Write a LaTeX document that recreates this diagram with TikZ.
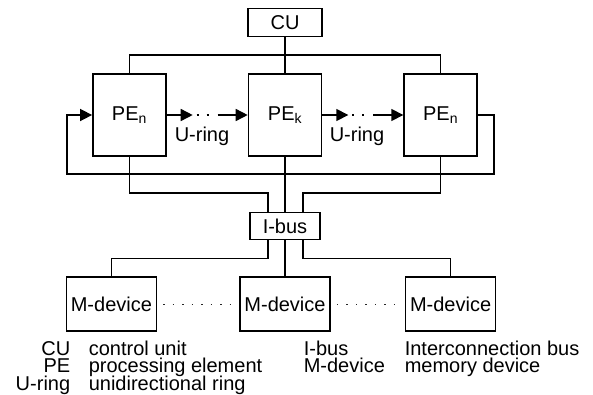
\documentclass[tikz,border=0pt]{standalone}
\usepackage{fontspec}
\setmainfont{Liberation Sans}
\usetikzlibrary{positioning}
\usetikzlibrary{arrows.meta}

\begin{document}
\begin{tikzpicture}[
    x=1pt, y=-1pt, % pixel-like units, y grows downwards
    line width=1.6pt,
    font=\fontsize{20}{20}\selectfont,
    node distance=36pt and 81pt, % vertical and horizontal spacing
    % Styling for the nodes
    unitBox/.style={
        rectangle,
        draw,
        inner sep=0pt,
        minimum width=74pt,
        minimum height=28pt
    },
    peBox/.style={
        rectangle,
        draw,
        inner sep=0pt,
        minimum width=73pt,
        minimum height=82pt
    },
    memBox/.style={
        rectangle,
        draw,
        inner sep=0pt,
        minimum width=90pt,
        minimum height=54pt
    },
    ringArrow/.style={-{Triangle[length=12pt,width=12pt]}},
    ringDots/.style={dash pattern=on 2pt off 8pt},
    memDots/.style={line width=1.4pt, dash pattern=on 1.4pt off 8.1pt, black!85},
    keyText/.style={inner sep=0pt, anchor=base west}
]
    \useasboundingbox (0,0) rectangle (593,394);

    % Define Nodes
    \node[peBox] (PEk) at (285,115) {PE\textsubscript{k}};
    \node[peBox] (PEl) [left=of PEk] {PE\textsubscript{n}};
    \node[peBox] (PEr) [right=of PEk] {PE\textsubscript{n}};
    \node[unitBox] (CU) [above=of PEk] {CU};
    \node[unitBox, minimum width=70pt, minimum height=27pt] (Ibus) [below=55pt of PEk] {I-bus};
    \node[memBox] (Mk) [below=of Ibus] {M-device};
    \node[memBox] (Ml) [left=82pt of Mk] {M-device};
    \node[memBox] (Mr) [right=74pt of Mk] {M-device};

    \node[inner sep=0pt, anchor=base] (ringL) at (202,141) {U-ring};
    \node[inner sep=0pt, anchor=base] (ringR) at (357,141) {U-ring};

    \coordinate (loopR) at (494,174);
    \coordinate (loopL) at (67,174);

    % Legend
    \node[keyText, anchor=base east] (keyCU) at (71,355) {CU};
    \node[keyText] (keyCUtxt) at (88,355) {control unit};
    \node[keyText, anchor=base east] (keyPE) at (71,372) {PE};
    \node[keyText] (keyPEtxt) at (88,372) {processing element};
    \node[keyText, anchor=base east] (keyRing) at (71,390) {U-ring};
    \node[keyText] (keyRingtxt) at (88,390) {unidirectional ring};
    \node[keyText] (keyIbus) at (303,355) {I-bus};
    \node[keyText] (keyIbustxt) at (404,355) {Interconnection bus};
    \node[keyText] (keyMem) at (303,372) {M-device};
    \node[keyText] (keyMemtxt) at (404,372) {memory device};

    % Draw Edges
    \draw (CU) -- (PEk);
    \draw (PEl.north) -- ++(0,-18) -| (PEr.north);

    \draw (PEk) -- (Ibus);
    \draw (PEl.south) |- ([xshift=-17pt,yshift=19pt]Ibus.north) -- ([xshift=-17pt]Ibus.north);
    \draw (PEr.south) |- ([xshift=18pt,yshift=19pt]Ibus.north) -- ([xshift=18pt]Ibus.north);

    \draw (Ibus) -- (Mk);
    \draw ([xshift=-17pt]Ibus.south) |- ([yshift=18pt]Ml.north) -- (Ml.north);
    \draw ([xshift=18pt]Ibus.south) |- ([yshift=18pt]Mr.north) -- (Mr.north);

    % unidirectional ring
    \draw[ringArrow] (PEl.east) -- ++(26,0);
    \draw[ringDots] ([xshift=30pt]PEl.east) -- ([xshift=-33pt]PEk.west);
    \draw[ringArrow] ([xshift=-30pt]PEk.west) -- (PEk.west);
    \draw[ringArrow] (PEk.east) -- ++(26,0);
    \draw[ringDots] ([xshift=30pt]PEk.east) -- ([xshift=-33pt]PEr.west);
    \draw[ringArrow] ([xshift=-30pt]PEr.west) -- (PEr.west);
    \draw[ringArrow] (PEr.east) -| (loopR) -- (loopL) |- (PEl.west);

    \draw[memDots, shorten <=6pt, shorten >=8pt] (Ml) -- (Mk);
    \draw[memDots, shorten <=6pt, shorten >=8pt] (Mk) -- (Mr);

\end{tikzpicture}
\end{document}
